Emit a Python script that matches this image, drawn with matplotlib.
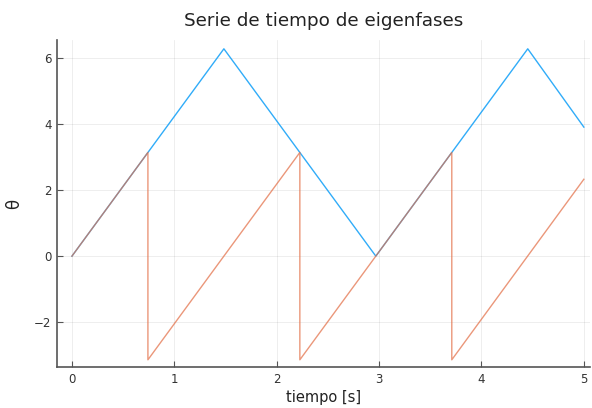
import matplotlib
matplotlib.use("Agg")
import matplotlib.pyplot as plt

# Eigenphase vertices (time in seconds, phase in radians)
t_fase1 = [0.0, 1.484, 2.968, 4.452, 5.0]
theta_fase1 = [0.0, 6.283, 0.0, 6.283, 3.91]

t_fase2 = [0.0, 0.742, 0.742, 2.226, 2.226, 3.71, 3.71, 5.0]
theta_fase2 = [0.0, 3.1416, -3.1416, 3.1416, -3.1416, 3.1416, -3.1416, 2.33]

xticks = [0, 1, 2, 3, 4, 5]
yticks = [-2, 0, 2, 4, 6]

fig = plt.figure(figsize=(5.92, 4.08), dpi=100)
ax = fig.add_axes([57 / 592, 1 - 367 / 408, (590 - 57) / 592, (367 - 40) / 408])

ax.plot(t_fase1, theta_fase1, color="#1AA3F8", lw=1.0, alpha=0.9)
ax.plot(t_fase2, theta_fase2, color="#E36F47", lw=1.0, alpha=0.72)

ax.set_xlim(-0.146, 5.06)
ax.set_ylim(-3.36, 6.55)
ax.set_xticks(xticks)
ax.set_yticks(yticks)
ax.set_yticklabels(["\u22122", "0", "2", "4", "6"])
ax.grid(True, color="#000000", alpha=0.08, lw=0.6)

for s in ["top", "right"]:
    ax.spines[s].set_visible(False)
for s in ["left", "bottom"]:
    ax.spines[s].set_color("#555555")
    ax.spines[s].set_linewidth(1.2)

ax.tick_params(direction="in", length=4, width=0.8, color="#555555",
               labelsize=8.5, labelcolor="#333333", pad=4)

ax.set_xlabel("tiempo [s]", fontsize=10.5, color="#222222", labelpad=3)
ax.set_ylabel("θ", fontsize=12, color="#222222", labelpad=8)
ax.set_title("Serie de tiempo de eigenfases", fontsize=13.2, color="#222222", pad=10)

fig.savefig("out.png", dpi=100)
